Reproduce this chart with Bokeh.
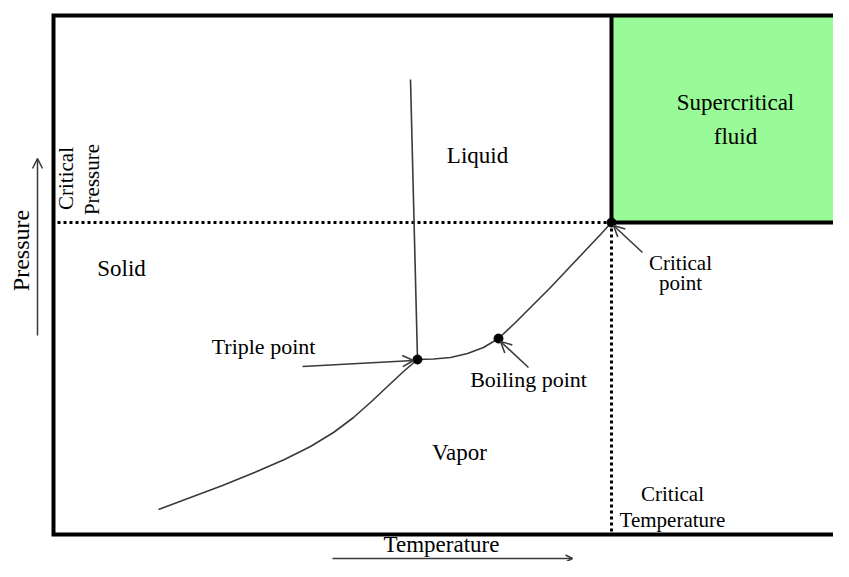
import numpy as np
from bokeh.plotting import figure
from bokeh.models import Range1d, Arrow, OpenHead
from bokeh.core.properties import value
from bokeh.embed import file_html
from bokeh.resources import INLINE

# ---- Schematic phase-diagram data (temperature T, pressure P in diagram units) ----
frame_T = [800, 0, 0, 800]
frame_P = [519, 519, 0, 0]

critical_T, critical_P = 558, 312
triple_T, triple_P = 364, 175
boiling_T, boiling_P = 445, 196

super_T = [558, 800]
super_P = [312, 519]

fusion_T = [357, 364]
fusion_P = [455, 175]

sublimation_T = [105, 137, 169, 201, 231, 257, 280, 300, 318, 335, 350, 364]
sublimation_P = [25, 37, 49, 62, 75, 88, 102, 117, 133, 149, 163, 175]

vaporization_T = [364, 380, 397, 414, 430, 445, 462, 479, 496, 513, 530, 547, 558]
vaporization_P = [175, 175.5, 177, 181, 187, 196, 212, 229, 246, 264, 282, 300, 312]

dotted_start_T = 4

# Labels
region_labels = ["Liquid", "Solid", "Vapor", "Supercritical", "fluid"]
region_T = [424, 68, 406, 682, 682]
region_P = [379, 266, 82, 432, 398]

point_labels = ["Triple point", "Boiling point"]
point_T = [210, 475]
point_P = [188, 155]

crit_labels = ["Critical", "point", "Critical", "Temperature"]
crit_T = [627, 627, 619, 619]
crit_P = [272, 252, 41, 15]

# annotation arrows: (tail T, tail P, head T, head P)
arrow_tails_T = [249, 475, 589]
arrow_tails_P = [168, 167, 282]
arrow_heads_T = [360, 447, 560]
arrow_heads_P = [174, 193, 309]

FONT = value("Liberation Serif")
CURVE = "#3a3a3a"

p = figure(width=833, height=561,
           x_range=Range1d(-53, 780), y_range=Range1d(-27, 534),
           x_axis_type=None, y_axis_type=None,
           output_backend="svg", toolbar_location=None, min_border=0)
p.outline_line_color = None
p.background_fill_color = "white"
p.border_fill_color = "white"

# supercritical region
p.quad(left=super_T[0], right=super_T[1], bottom=super_P[0], top=super_P[1],
       fill_color="#98FB98", line_color=None)

# dotted critical lines
p.line([dotted_start_T, critical_T], [critical_P, critical_P],
       line_color="black", line_width=3, line_dash="3 3")
p.line([critical_T, critical_T], [critical_P, 0],
       line_color="black", line_width=3, line_dash="3 3")

# frame and supercritical border
p.line(frame_T, frame_P, line_color="black", line_width=4, line_join="miter")
p.line([super_T[1], critical_T, critical_T], [critical_P, critical_P, super_P[1]],
       line_color="black", line_width=4, line_join="miter")

# phase boundaries
p.line(fusion_T, fusion_P, line_color=CURVE, line_width=1.6)
p.line(sublimation_T, sublimation_P, line_color=CURVE, line_width=1.6, line_join="round")
p.line(vaporization_T, vaporization_P, line_color=CURVE, line_width=1.6, line_join="round")

# annotation arrows
for tx, ty, hx, hy in zip(arrow_tails_T, arrow_tails_P, arrow_heads_T, arrow_heads_P):
    p.add_layout(Arrow(end=OpenHead(size=11, line_width=1.6, line_color=CURVE),
                       x_start=tx, y_start=ty, x_end=hx, y_end=hy,
                       line_width=1.6, line_color=CURVE))

# special points
p.scatter([triple_T, boiling_T, critical_T], [triple_P, boiling_P, critical_P],
          size=9, fill_color="black", line_color="black")

# axis arrows
p.add_layout(Arrow(end=OpenHead(size=10, line_width=1.5, line_color=CURVE),
                   x_start=-16, y_start=199, x_end=-16, y_end=376,
                   line_width=1.5, line_color=CURVE))
p.add_layout(Arrow(end=OpenHead(size=7, line_width=1.5, line_color=CURVE),
                   x_start=279, y_start=-24, x_end=519, y_end=-24,
                   line_width=1.5, line_color=CURVE))

# texts
p.text(region_T, region_P, text=region_labels, text_font=FONT, text_font_size="23px",
       text_align="center", text_baseline="alphabetic", text_color="black")
p.text(point_T, point_P, text=point_labels, text_font=FONT, text_font_size="22px",
       text_align="center", text_baseline="alphabetic", text_color="black")
p.text(crit_T, crit_P, text=crit_labels, text_font=FONT, text_font_size="21px",
       text_align="center", text_baseline="alphabetic", text_color="black")
p.text([388], [-10], text=["Temperature"], text_font=FONT, text_font_size="23px",
       text_align="center", text_baseline="alphabetic", text_color="black")
p.text([-33], [284], text=["Pressure"], angle=np.pi / 2, text_font=FONT,
       text_font_size="24px", text_align="center", text_baseline="alphabetic",
       text_color="black")
p.text([12, 38], [356, 355], text=["Critical", "Pressure"], angle=np.pi / 2,
       text_font=FONT, text_font_size="21px", text_align="center",
       text_baseline="alphabetic", text_color="black")

open("out.html", "w").write(file_html(p, INLINE))
